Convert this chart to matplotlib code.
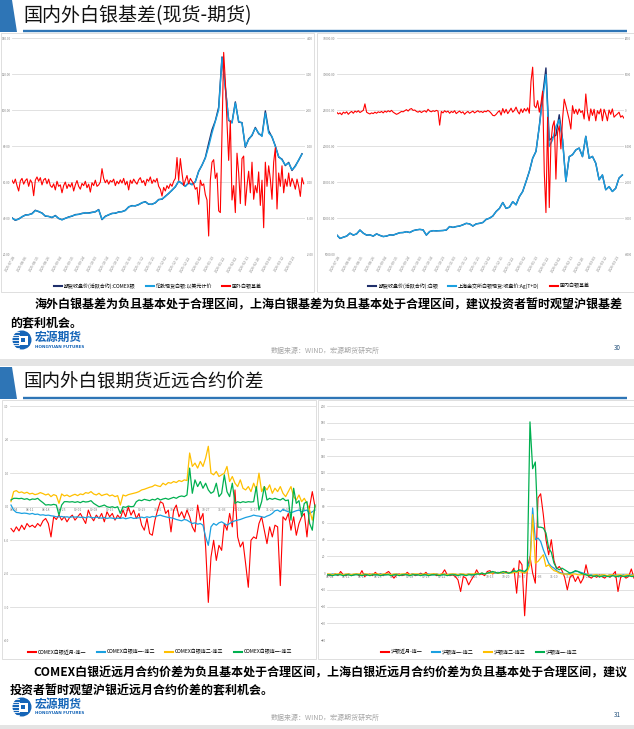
import numpy as np
import matplotlib.pyplot as plt
from matplotlib.patches import Rectangle, Polygon, Circle
from matplotlib.lines import Line2D

plt.rcParams['font.family'] = ['Noto Sans CJK SC', 'DejaVu Sans']

# ---------------- data: slide 30 (basis) ----------------
basis_dates = ["2025-07-28", "2025-08-06", "2025-08-15", "2025-08-26", "2025-09-04",
               "2025-09-15", "2025-09-24", "2025-10-03", "2025-10-14", "2025-10-23",
               "2025-11-03", "2025-11-12", "2025-11-21", "2025-12-02", "2025-12-11",
               "2025-12-22", "2026-01-02", "2026-01-13", "2026-01-22", "2026-02-02",
               "2026-02-11", "2026-02-20", "2026-03-03", "2026-03-12", "2026-03-23"]

# overseas: London spot / COMEX active close (every 2nd day), basis (daily)
london_spot = [39.9, 38.9, 39.3, 40.8, 41.5, 41.9, 42.3, 44.1, 43.7, 42.6,
               41.2, 40.8, 40.4, 41.2, 39.9, 38.9, 39.9, 40.4, 41.2, 41.7,
               42.1, 42.4, 43.0, 42.6, 43.0, 43.6, 44.5, 39.3, 40.8, 41.9,
               42.4, 42.8, 43.2, 43.6, 44.1, 46.3, 46.7, 46.9, 47.3, 48.6,
               48.9, 47.8, 47.5, 48.6, 50.1, 50.6, 51.9, 53.8, 55.3, 57.5,
               60.3, 59.3, 57.5, 59.7, 58.4, 60.3, 65.8, 69.5, 73.2, 79.7,
               87.2, 93.7, 100.1, 128.9, 112.2, 94.6, 92.7, 103.9, 93.7, 92.7,
               79.7, 83.5, 86.2, 89.9, 87.2, 85.3, 98.3, 87.2, 85.3, 79.7,
               74.2, 72.3, 69.5, 70.5, 66.8, 68.6, 72.3, 75.5]
comex_close = [40.1, 38.7, 39.5, 40.6, 41.7, 41.8, 42.5, 44.3, 43.5, 42.8,
               41.0, 40.9, 40.2, 41.4, 39.7, 39.1, 39.8, 40.6, 41.0, 41.9,
               42.0, 42.6, 42.8, 42.8, 43.2, 43.4, 44.7, 39.1, 41.0, 41.7,
               42.6, 42.6, 43.4, 43.5, 44.3, 46.1, 46.9, 46.7, 47.5, 48.4,
               49.1, 47.6, 47.7, 48.4, 50.3, 50.4, 52.1, 53.6, 55.5, 57.3,
               60.5, 59.1, 57.7, 59.5, 58.6, 60.1, 66.0, 69.3, 73.6, 81.5,
               89.0, 94.0, 101.5, 129.5, 112.8, 94.2, 93.1, 104.5, 93.3, 93.0,
               79.3, 83.9, 85.8, 90.3, 86.8, 85.7, 99.5, 88.5, 84.9, 80.1,
               73.8, 72.7, 69.1, 70.9, 66.4, 69.0, 72.1, 75.7]
overseas_basis = [0.05, -0.04, 0.08, -0.10, -0.25, 0.03, 0.10, -0.06, 0.04, 0.09,
                  -0.12, 0.06, -0.02, -0.38, 0.05, 0.14, 0.02, 0.12, -0.08, 0.06,
                  0.10, -0.05, 0.08, -0.10,
                  -0.15, -0.05, -0.22, 0.02, -0.12, -0.08, -0.30, -0.10, 0.00, -0.18,
                  -0.06, -0.14, -0.02, -0.25, -0.08, 0.04, -0.12, -0.20, -0.04, -0.10,
                  0.02, -0.16, -0.06, -0.28, -0.02, -0.10, 0.05, -0.12, -0.08, 0.00,
                  0.37,
                  0.10, -0.02, 0.06, -0.06, 0.04, 0.00, 0.08, -0.10, 0.02, -0.05,
                  0.06, -0.03, 0.10, -0.08, 0.02, -0.22, 0.05, -0.04, 0.08, 0.00,
                  -0.06, 0.06, 0.12, -0.02, 0.04, -0.10, 0.08, 0.02, 0.14, -0.04,
                  0.06, 0.00, 0.10,
                  -0.12, -0.20, -0.39, -0.15, -0.25, -0.10, -0.18, -0.05, -0.12, 0.02,
                  0.10, 0.68, 0.05, 0.65, 0.25, -0.10, 0.05, 0.18, -0.05, 0.10,
                  0.02, -0.05, -0.20, -0.15, -0.62, 0.05, -0.10, -0.05, -0.35, -0.50,
                  -1.50, 0.05, 0.55, 0.62, 0.10, 0.25, -0.80, -0.85, 1.35, 3.60,
                  2.80, 1.65, 0.60, 1.70, -0.50, -0.10, -0.85, 0.80, 0.25, -0.60,
                  0.65, 0.72, -0.65, -0.10, 0.30, -0.30, 0.55, -0.48, -0.10, -0.30,
                  0.28, -0.65, 0.05, -1.27, 0.55, -0.12, 0.45, 0.08, -0.48, 0.55,
                  0.95, -0.75, 0.25, -0.12, 0.45, -0.30, 0.08, -0.12, 0.25, -0.12,
                  0.10, -0.02, -0.20, 0.08, -0.12, -0.40, 0.12, -0.05]

# domestic: SGE Ag(T+D) / SHFE active close (every 2nd day), basis (daily)
sge_spot = [7640, 7180, 7320, 7500, 7880, 7640, 7780, 8340, 7880, 7640,
            7640, 7500, 7780, 7600, 7410, 7500, 7640, 7640, 7780, 7970,
            7970, 8110, 7970, 8250, 8340, 8430, 8340, 7640, 8110, 8250,
            8200, 8250, 8250, 8340, 8800, 8710, 8800, 8900, 9040, 9270,
            9170, 8900, 9170, 9270, 9360, 9820, 9960, 10290, 10890, 11350,
            12140, 11350, 11490, 12280, 11820, 12980, 13670, 15060, 16460, 18310,
            19240, 22720, 26430, 29910, 19930, 20860, 22720, 23650, 20860, 15060,
            18540, 18780, 19470, 19700, 18540, 21330, 18310, 18540, 17620, 15300,
            15990, 13910, 14370, 13670, 14140, 15530, 15990]
shfe_close = [7660, 7160, 7340, 7480, 7900, 7620, 7800, 8320, 7900, 7620,
              7660, 7480, 7800, 7580, 7430, 7480, 7660, 7620, 7800, 7950,
              7990, 8090, 7990, 8230, 8360, 8410, 8360, 7620, 8130, 8230,
              8220, 8230, 8270, 8320, 8820, 8690, 8820, 8880, 9060, 9250,
              9190, 8880, 9190, 9250, 9380, 9800, 9980, 10270, 10910, 11330,
              12160, 11330, 11510, 12260, 11840, 12960, 13690, 15040, 16480, 18290,
              19260, 22740, 27000, 30840, 20800, 21200, 21500, 24340, 20900, 15100,
              18500, 18800, 19450, 19720, 18520, 21350, 18290, 18560, 17600, 15320,
              15970, 13930, 14350, 13690, 14120, 15550, 15970]
domestic_basis = [-60, -110, -80, -130, -60, -90, -50, -120, -70, -40,
                  -90, -30, -60, -20, -70, -40, -10, 170, -60, -90,
                  -110, -80, -100, -60, -90, -50, -70, -40, -80, -30,
                  -60, -20, -50, -10, -60, -90, -120, -100, -70, -40,
                  -50, -20, 10, -30, 20, 40, -10, 0, -40, -60,
                  -30, -70, -40, -20, -60, 20, -30, -50, -20, -40,
                  -10, -30, -420, -40, -80, -20, -60, -30, -90, -40,
                  -70, -20, -100, -60, -30, -80, -50, -120, -70, -40,
                  -90, -60, -30, -80, -50, -20, -60, -40, -70, -30,
                  -50, -10, -40, -90, -150, -160, -120, -60, -20, -140,
                  40, -80, 20, -100, -30, 50, -60, -10, 80, -40,
                  -110, 30, -70, 40, -30, 60, -90, 800, 1190, 120,
                  60, 260, -60, 180, 520, -1735, -2850, -200, -2710, -900,
                  -450, -300, -1920, -620, -440, -1080, -250, 300, 120, -80,
                  -270, -530, 120, -100, 20, -120, 30, -70, -20, -250,
                  445, -60, -300, 30, -150, 20, -300, -20, -110, 30,
                  -300, 20, -110, -300, 0, -120, 30, -200, -150, -110,
                  -60, -200, -160, -230]

# ---------------- data: slide 31 (calendar spreads) ----------------
comex_dates = ["08-04", "08-11", "08-18", "08-25", "09-01", "09-08", "09-15",
               "09-22", "09-29", "10-06", "10-13", "10-20", "10-27", "11-03",
               "11-10", "11-17", "11-24", "12-01", "12-08"]
comex_near_1 = [-0.65, -0.75, -0.6, -0.72, -0.55, -0.68, -0.5, -0.6, -0.55, -0.62,
                -0.5, -0.58, -0.42, -0.35, -0.5, -0.9, -0.3, -0.38, -0.25, -0.4,
                -0.3, -0.45, -0.32, -0.25, -0.4, -0.3, -0.2, -0.35, -0.5, -0.1,
                -0.3, -0.42, -0.25, -0.35, -0.2, -0.45, -0.15, -0.3, -0.2, -0.4,
                -0.25, -0.35, -0.1, -0.3, 0.0, -0.25, -0.1, -0.35, -0.2, -0.55,
                -0.7, -0.35, -0.8, -0.85, -0.4, -0.1, 0.15, 0.1, -0.2, -0.1,
                -0.75, -0.1, 0.05, -0.3, -0.15, -0.35, -0.1, -0.3, -0.6, -0.75,
                0.05, -0.4, -0.2, -1.2, -2.85, -1.5, -1.0, -1.6, -1.15, -1.3,
                -0.5, -0.7, -0.2, -0.6, 0.5, -0.9, -1.2, -1.05, -1.7, -2.4,
                -1.0, -0.9, -0.95, -0.5, -0.3, -0.7, -1.1, -0.6, -0.9, -0.55,
                -0.6, -2.35, -0.3, -0.4, -0.2, -0.7, -0.3, -0.85, -0.5, -0.3,
                -0.2, -0.9, 0.0, 0.45, 0.0]
comex_1_2 = [0.05, -0.1, -0.17, -0.18, -0.2, -0.19, -0.2, -0.22, -0.2, -0.23,
             -0.22, -0.25, -0.24, -0.26, -0.25, -0.27, -0.28, -0.3, -0.3, -0.29,
             -0.31, -0.3, -0.32, -0.3, -0.31, -0.3, -0.32, -0.31, -0.33, -0.3,
             -0.32, -0.33, -0.31, -0.33, -0.34, -0.32, -0.35, -0.33, -0.34, -0.36,
             -0.34, -0.35, -0.33, -0.36, -0.34, -0.32, -0.35, -0.34, -0.33, -0.31,
             -0.33, -0.3, -0.32, -0.29, -0.3, -0.27, -0.25, -0.28, -0.3, -0.32,
             -0.33, -0.35, -0.38, -0.4, -0.42, -0.38, -0.4, -0.45, -0.5, -0.48,
             -0.52, -0.5, -0.55, -0.9, -1.15, -0.6, -0.5, -0.55, -0.48, -0.45,
             -0.5, -0.55, -0.5, -0.45, -0.42, -0.4, -0.38, -0.35, -0.32, -0.3,
             -0.28, -0.25, -0.27, -0.28, -0.3, -0.32, -0.28, -0.25, -0.2, -0.12,
             -0.1, -0.15, -0.08, -0.12, -0.15, -0.18, -0.15, -0.12, -0.1, -0.15,
             -0.12, -0.1, -0.2, -0.15, -0.1]
comex_2_3 = [0.15, 0.45, 0.48, 0.42, 0.44, 0.4, 0.43, 0.38, 0.4, 0.36,
             0.38, 0.42, 0.39, 0.35, 0.38, 0.3, 0.36, 0.33, 0.1, 0.38,
             0.32, 0.35, 0.3, 0.34, 0.37, 0.33, 0.38, 0.36, 0.42, 0.4,
             0.45, 0.38, 0.35, 0.4, 0.33, 0.36, 0.38, 0.32, 0.35, 0.3,
             0.33, 0.05, 0.35, 0.32, 0.36, 0.38, 0.4, 0.42, 0.45, 0.5,
             0.52, 0.55, 0.58, 0.6, 0.65, 0.62, 0.6, 0.7, 0.65, 0.72,
             0.7, 0.75, 0.72, 0.78, 0.75, 0.8, 0.78, 1.6, 1.2, 1.3,
             1.15, 1.35, 1.2, 1.45, 1.8, 1.0, 0.95, 1.05, 0.9, 0.95,
             1.0, 1.2, 0.75, 0.9, 0.7, 0.6, 0.8, 0.55, 0.5, 0.6,
             0.45, 0.7, 0.5, 1.0, 0.45, 0.6, 0.5, 0.65, 0.4, 0.55,
             0.45, 0.6, 0.4, 0.3, 0.45, 0.6, 0.3, 0.2, 0.35, 0.15,
             0.25, 0.1, -0.1, -0.4, 0.0]
comex_1_3 = [0.2, 0.25, 0.25, 0.24, 0.25, 0.22, 0.24, 0.2, 0.23, 0.22,
             0.25, 0.18, 0.12, 0.05, 0.06, 0.05, 0.07, 0.05, -0.25, 0.05,
             0.15, 0.15, 0.14, 0.15, 0.13, 0.15, 0.12, 0.16, 0.14, 0.15,
             0.18, 0.1, 0.05, 0.0, 0.02, 0.05, 0.0, -0.02, 0.0, -0.03,
             0.0, -0.2, 0.0, -0.02, 0.02, 0.0, 0.01, 0.15, 0.2, 0.18,
             0.22, 0.2, 0.18, 0.22, 0.2, 0.25, 0.2, 0.23, 0.25, 0.22,
             0.25, 0.28, 0.25, 0.3, 0.32, 0.3, 0.35, 1.15, 0.4, 0.8,
             0.6, 0.75, 0.55, 0.7, 0.5, 0.4, 0.45, 0.7, 0.3, 0.4,
             0.95, 0.45, 0.3, 0.7, 0.1, 0.15, 0.12, 0.15, 0.13, 0.15,
             0.14, 0.15, 0.6, -0.1, 0.15, 0.6, 0.2, 0.25, 0.22, 0.25,
             0.22, 0.2, 0.25, 0.18, 0.2, -0.4, 0.55, 0.1, 0.18, -0.3,
             0.1, 0.15, -0.5, -0.7, 0.05]

shfe_dates = ["08-04", "08-11", "08-18", "08-25", "09-01", "09-08", "09-15",
              "09-22", "09-29", "10-06", "10-13", "10-20", "10-27", "11-03",
              "11-10", "11-17", "11-24", "12-01", "12-08"]
shfe_near_1 = [-2, -3, -2, -1, -3, 2, -2, -3, -1, -3,
               -2, -1, -3, 3, -4, -2, -1, -3, 1, -2,
               -1, -3, 0, 2, -2, -6, -2, -1, -3, -2,
               1, -2, -1, -3, -2, 0, -2, 1, -3, -2,
               -1, -3, -2, -1, 4, -2, -3, -2, -4, -8,
               -22, -4, -6, -14, -8, -3, 4, -2, -1, -3,
               2, 3, -1, 1, 0, 1, 0, 2, 0, 1,
               6, -24, 15, 10, -51, 5, 20, 0, -12, 90,
               95, 70, 40, 22, 40, 15, 5, 8, 3, -5,
               -20, -5, -2, -10, -4, -12, -6, 10, -4, -6,
               -3, -5, -2, -4, -6, -3, -5, -2, 2, -22,
               -5, -3, -6, -4, 5, -6]
shfe_1_2 = [-2, -2, -1, -2, -2, -1, -2, -2, -1, -2,
            -2, -1, -2, -2, -1, -2, -2, -1, -2, -2,
            -1, -2, -2, -1, -2, -2, -1, -2, -2, -1,
            -2, -2, -1, -2, -2, -1, -2, -2, -1, -2,
            -2, -1, -2, -2, -1, -2, -2, -1, -2, -2,
            -1, -2, -2, -1, -2, -2, -1, -1, 0, -1,
            0, 0, 1, 0, 1, 0, 0, 1, 0, 1,
            2, 1, 3, 2, 0, 5, 15, 78, 40, 42,
            38, 28, 20, 12, 8, 6, 3, 1, 0, -1,
            -1, 0, 1, 2, 2, 1, 0, -1, -2, -2,
            -3, -2, -3, -2, -3, -3, -2, -3, -2, -3,
            -3, -2, -3, -3, -2, -3]
shfe_2_3 = [-1, -1, -2, -1, -1, -1, -2, -1, -1, -2,
            -1, -1, -1, -2, -1, -1, -2, -1, -1, -1,
            -2, -1, -1, -1, -2, -1, -1, -2, -1, -1,
            -1, -2, -1, -1, -1, -2, -1, -1, -2, -1,
            -1, -1, -2, -1, -1, -2, -1, -1, -1, -2,
            -1, -1, -2, -1, -1, -1, 0, -1, 0, -1,
            0, 0, 0, 1, 0, 0, 1, 0, 1, 0,
            1, 1, 2, 1, 0, 2, 10, 70, 12, 14,
            18, 22, 8, 10, 6, 3, 2, 0, -1, -1,
            -1, -2, -1, -1, -2, -2, -1, -2, -2, -3,
            -2, -2, -3, -2, -2, -3, -2, -2, -3, -2,
            -2, -3, -2, -2, -3, -2]
shfe_1_3 = [-2, -2, -3, -2, -2, -2, -3, -2, -2, -3,
            -2, -2, -2, -3, -2, -2, -3, -2, -2, -2,
            -3, -2, -2, -2, -3, -2, -2, -3, -2, -2,
            -2, -3, -2, -2, -2, -3, -2, -2, -3, -2,
            -2, -2, -3, -2, -2, -3, -2, -2, -2, -3,
            -2, -2, -3, -2, -2, -2, -1, -1, 0, -1,
            0, 1, 2, 1, 0, 1, 2, 1, 0, 1,
            3, 2, 4, 3, 2, 5, 181, 125, 133, 55,
            55, 54, 48, 30, 25, 12, 6, 4, 6, 4,
            2, 0, 1, 3, 2, 0, -1, -2, -3, -3,
            -4, -3, -4, -4, -3, -4, -4, -3, -4, -4,
            -3, -4, -4, -3, -4, -4]

text_30 = ["海外白银基差为负且基本处于合理区间，上海白银基差为负且基本处于合理区间，建议投资者暂时观望沪银基差",
           "的套利机会。"]
text_31 = ["COMEX白银近远月合约价差为负且基本处于合理区间，上海白银近远月合约价差为负且基本处于合理区间，建议",
           "投资者暂时观望沪银近远月合约价差的套利机会。"]

# ---------------- styling ----------------
BLUE = "#2E75B6"
LOGO_BLUE = "#1565B8"
NAVY = "#1F2F6B"
LBLUE = "#1AA0E0"
RED = "#FF0000"
YELLOW = "#FFC000"
GREEN = "#00B050"
GRID = "#DCDCDC"
TICK = "#808080"
TICK_SIZE = 2.2

W, H = 634, 729
fig = plt.figure(figsize=(W / 100, H / 100), dpi=100)
fig.patch.set_facecolor("white")

bg = fig.add_axes([0, 0, 1, 1])
bg.set_xlim(0, W)
bg.set_ylim(H, 0)
bg.axis("off")


def px_axes(x0, y0, x1, y1):
    return fig.add_axes([x0 / W, 1 - y1 / H, (x1 - x0) / W, (y1 - y0) / H])


def title_bar(top, text, size):
    bg.add_patch(Polygon([[0, top], [12, top], [17, top + 32], [0, top + 32]], closed=True,
                         color=BLUE, lw=0))
    bg.plot([23, 627], [top + 31, top + 31], color=BLUE, lw=1.7, solid_capstyle="butt")
    bg.text(23, top + 15.5, text, fontsize=size, va="center", ha="left", color="#111111")


def logo(top):
    cx, cy = 22, top + 10
    bg.add_patch(Circle((cx, cy), 9.5, color=LOGO_BLUE, lw=0))
    for k in range(-3, 4):
        bg.plot([cx - 10, cx - 3.5], [cy + k * 2.6, cy + k * 2.6], color="white", lw=0.6)
    bg.add_patch(Rectangle((cx - 3.5, cy - 4.5), 9, 9, color="white", lw=0))
    bg.add_patch(Rectangle((cx - 1.0, cy - 2.0), 4, 4, color=LOGO_BLUE, lw=0))
    bg.text(35, top + 7, "宏源期货", fontsize=8.5, weight="bold", color=LOGO_BLUE, va="center")
    bg.text(35, top + 16.5, "HONGYUAN FUTURES", fontsize=3.0, weight="bold", color=LOGO_BLUE,
            va="center", family="DejaVu Sans")


def footer(y, page):
    bg.text(325, y, "数据来源：WIND，宏源期货研究所", fontsize=5, color="#A6A6A6",
            ha="center", va="center")
    bg.text(617, y - 3, page, fontsize=4.5, color="#1F4E79", ha="center", va="center")


def style_axes(ax):
    for s in ax.spines.values():
        s.set_visible(False)
    ax.tick_params(length=0, labelsize=TICK_SIZE, labelcolor=TICK, pad=1.0)
    ax.set_facecolor("none")


def add_legend(ax, handles, labels, cx, cy, ncol, spacing):
    ax.legend(handles, labels, loc="center", bbox_to_anchor=(cx / W, 1 - cy / H),
              bbox_transform=fig.transFigure, ncol=ncol, frameon=False, fontsize=3.6,
              handlelength=1.6, handletextpad=0.4, columnspacing=spacing)


# ---------------- frames ----------------
title_bar(0, "国内外白银基差(现货-期货)", 13.7)
title_bar(367, "国内外白银期货近远合约价差", 13.3)
bg.add_patch(Rectangle((0, 359), W, 7, color="#E4E4E4", lw=0))
bg.add_patch(Rectangle((0, 725), W, 4, color="#E4E4E4", lw=0))
for (x0, y0, x1, y1) in [(0.5, 33, 314, 292), (317, 33, 633.5, 292),
                         (2, 400, 316, 659), (318, 400, 633.5, 659)]:
    bg.add_patch(Rectangle((x0, y0), x1 - x0, y1 - y0, fill=False, ec="#D9D9D9", lw=0.6))

bg.text(35, 305, text_30[0], fontsize=8.67, weight="bold", va="center", ha="left")
bg.text(10, 323, text_30[1], fontsize=8.67, weight="bold", va="center", ha="left")
bg.text(33, 673, text_31[0], fontsize=8.62, weight="bold", va="center", ha="left")
bg.text(10, 691, text_31[1], fontsize=8.62, weight="bold", va="center", ha="left")
logo(330)
logo(697)
footer(351, "30")
footer(718, "31")

# ---------------- chart A1: overseas basis ----------------
day_ticks = np.arange(len(basis_dates)) * 7 + 3

a1 = px_axes(12, 38, 305, 254)
a1r = a1.twinx()
d_spot = np.arange(len(london_spot)) * 2
d_basis = np.arange(len(overseas_basis))
a1.plot(d_spot, comex_close, color=NAVY, lw=1.0)
a1.plot(d_spot, london_spot, color=LBLUE, lw=1.0)
a1r.plot(d_basis, overseas_basis, color=RED, lw=0.8)
a1.set_ylim(20, 140)
a1.set_yticks(np.arange(20, 141, 20))
a1.set_yticklabels([f"{v:.2f}" for v in np.arange(20, 141, 20)])
a1r.set_ylim(-2, 4)
a1r.set_yticks(np.arange(-2, 5, 1))
a1r.set_yticklabels([f"{v:.2f}" for v in np.arange(-2, 5, 1)])
a1.set_xlim(0, 175.8)
a1.set_xticks(day_ticks)
a1.set_xticklabels(basis_dates, rotation=60, ha="right")
a1.grid(axis="y", color=GRID, lw=0.6)
a1.set_axisbelow(True)
style_axes(a1)
style_axes(a1r)
a1.tick_params(axis="x", labelsize=2.5)
add_legend(a1, [Line2D([], [], color=NAVY, lw=1.5), Line2D([], [], color=LBLUE, lw=1.5),
                Line2D([], [], color=RED, lw=1.5)],
           ["期货收盘价(活跃合约):COMEX银", "伦敦现货白银:以美元计价", "国外白银基差"],
           158, 286, 3, 2.0)

# ---------------- chart A2: domestic basis ----------------
a2 = px_axes(336.7, 38, 624, 254)
a2r = a2.twinx()
d_sge = np.arange(len(sge_spot)) * 2
d_dbasis = np.arange(len(domestic_basis))
a2.plot(d_sge, shfe_close, color=NAVY, lw=1.0)
a2.plot(d_sge, sge_spot, color=LBLUE, lw=1.0)
a2r.plot(d_dbasis, domestic_basis, color=RED, lw=0.8)
a2.set_ylim(5000, 35000)
a2.set_yticks(np.arange(5000, 35001, 5000))
a2.set_yticklabels([f"{v:.2f}" for v in np.arange(5000, 35001, 5000)])
a2r.set_ylim(-4000, 2000)
a2r.set_yticks(np.arange(-4000, 2001, 1000))
a2r.set_yticklabels([f"{v:.0f}" for v in np.arange(-4000, 2001, 1000)])
a2.set_xlim(0, 173.0)
a2.set_xticks(day_ticks)
a2.set_xticklabels(basis_dates, rotation=60, ha="right")
a2.grid(axis="y", color=GRID, lw=0.6)
a2.set_axisbelow(True)
style_axes(a2)
style_axes(a2r)
a2r.tick_params(axis="y", labelsize=2.0, pad=0.5)
a2.tick_params(axis="x", labelsize=2.5)
add_legend(a2, [Line2D([], [], color=NAVY, lw=1.5), Line2D([], [], color=LBLUE, lw=1.5),
                Line2D([], [], color=RED, lw=1.5)],
           ["期货收盘价(活跃合约):白银", "上海金交所白银现货:收盘价:Ag(T+D)", "国内白银基差"],
           479, 286, 3, 2.0)

# ---------------- chart B1: COMEX spreads ----------------
b1 = px_axes(10, 406, 315.5, 641)
idx_c = np.arange(len(comex_near_1))
b1.plot(idx_c, comex_near_1, color=RED, lw=0.8)
b1.plot(idx_c, comex_1_2, color=LBLUE, lw=0.9)
b1.plot(idx_c, comex_2_3, color=YELLOW, lw=0.9)
b1.plot(idx_c, comex_1_3, color=GREEN, lw=0.9)
b1.set_ylim(-4, 3)
b1.set_yticks(np.arange(-4, 4, 1))
b1.set_yticklabels([f"{v:.1f}" for v in np.arange(-4, 4, 1)])
b1.set_xlim(-0.375, 114.2)
b1.set_xticks(np.arange(len(comex_dates)) * 6 + 1)
b1.set_xticklabels(comex_dates)
b1.grid(axis="y", color=GRID, lw=0.6)
b1.set_axisbelow(True)
style_axes(b1)
b1.spines["bottom"].set_position(("data", 0))
b1.tick_params(axis="x", labelsize=2.4, pad=1)
add_legend(b1, [Line2D([], [], color=c, lw=1.5) for c in (RED, LBLUE, YELLOW, GREEN)],
           ["COMEX白银近月-连一", "COMEX白银连一-连二", "COMEX白银连二-连三", "COMEX白银连一-连三"],
           160, 652, 4, 2.0)

# ---------------- chart B2: SHFE spreads ----------------
b2 = px_axes(327, 406, 634, 640)
idx_s = np.arange(len(shfe_near_1))
b2.plot(idx_s, shfe_near_1, color=RED, lw=0.8)
b2.plot(idx_s, shfe_1_2, color=LBLUE, lw=0.9)
b2.plot(idx_s, shfe_2_3, color=YELLOW, lw=0.9)
b2.plot(idx_s, shfe_1_3, color=GREEN, lw=0.9)
b2.set_ylim(-80, 200)
b2.set_yticks(np.arange(-80, 201, 20))
b2.set_xlim(-0.1, 115.0)
b2.set_xticks(np.arange(len(shfe_dates)) * 6 + 1)
b2.set_xticklabels(shfe_dates)
b2.grid(axis="y", color=GRID, lw=0.6)
b2.set_axisbelow(True)
style_axes(b2)
b2.spines["bottom"].set_position(("data", 0))
b2.tick_params(axis="x", labelsize=2.4, pad=1)
add_legend(b2, [Line2D([], [], color=c, lw=1.5) for c in (RED, LBLUE, YELLOW, GREEN)],
           ["沪银近月-连一", "沪银连一-连二", "沪银连二-连三", "沪银连一-连三"],
           479, 652, 4, 2.0)

plt.savefig("out.png", dpi=100)
